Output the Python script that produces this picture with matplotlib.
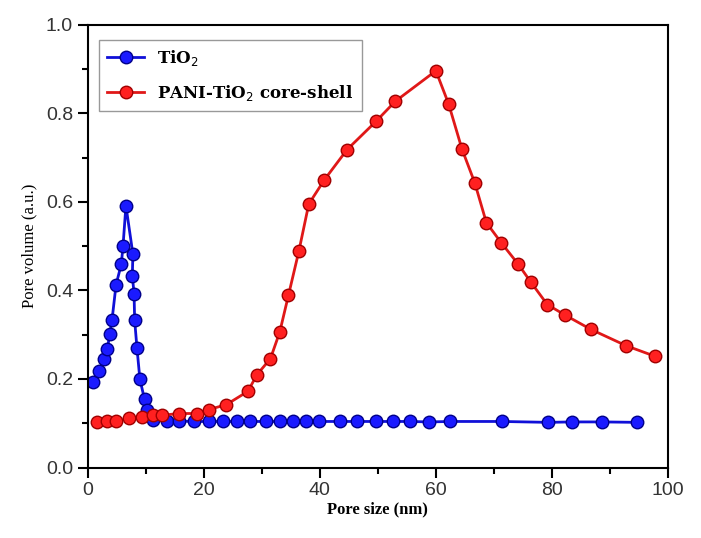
import matplotlib.pyplot as plt
from matplotlib.ticker import MultipleLocator

# TiO2 pore size distribution
tio2_size = [0.9, 1.9, 2.8, 3.4, 3.8, 4.2, 4.9, 5.8, 6.1, 6.6, 7.8, 7.7, 8.0, 8.1, 8.5,
             9.0, 9.8, 10.3, 11.3, 13.7, 15.7, 18.3, 20.9, 23.3, 25.7, 28.0, 30.8,
             33.2, 35.3, 37.6, 39.9, 43.4, 46.4, 49.6, 52.6, 55.5, 58.9, 62.5, 71.4,
             79.4, 83.4, 88.6, 94.7]
tio2_vol = [0.193, 0.218, 0.244, 0.267, 0.301, 0.333, 0.413, 0.459, 0.501, 0.591, 0.482,
            0.433, 0.393, 0.333, 0.270, 0.200, 0.154, 0.129, 0.108, 0.105, 0.105, 0.104,
            0.104, 0.104, 0.104, 0.104, 0.104, 0.104, 0.104, 0.104, 0.104, 0.104, 0.104,
            0.104, 0.104, 0.104, 0.103, 0.104, 0.104, 0.102, 0.103, 0.103, 0.102]

# PANI-TiO2 core-shell
pani_size = [1.6, 3.4, 4.9, 7.1, 9.3, 11.3, 12.8, 15.7, 18.8, 20.9, 23.9, 27.6, 29.2,
             31.5, 33.1, 34.6, 36.4, 38.1, 40.8, 44.7, 49.7, 53.0, 60.0, 62.2, 64.5,
             66.7, 68.7, 71.3, 74.2, 76.4, 79.2, 82.3, 86.7, 92.8, 97.8]
pani_vol = [0.102, 0.104, 0.104, 0.111, 0.113, 0.118, 0.118, 0.122, 0.122, 0.131, 0.142,
            0.172, 0.210, 0.246, 0.306, 0.389, 0.489, 0.595, 0.650, 0.718, 0.782, 0.827,
            0.896, 0.821, 0.719, 0.643, 0.553, 0.507, 0.459, 0.418, 0.368, 0.344, 0.312,
            0.275, 0.251]

fig = plt.figure(figsize=(7.01, 5.38), dpi=100)
ax = fig.add_axes([0.125, 0.131, 0.828, 0.823])

ax.plot(tio2_size, tio2_vol, color='#1010d8', lw=2, marker='o', ms=9,
        mfc='#1a1aff', mec='#00008a', mew=1, label='TiO$_2$')
ax.plot(pani_size, pani_vol, color='#e01818', lw=2, marker='o', ms=9,
        mfc='#ff2020', mec='#a00000', mew=1, label='PANI-TiO$_2$ core-shell')

ax.set_xlim(0, 100)
ax.set_ylim(0, 1.0)
ax.xaxis.set_major_locator(MultipleLocator(20))
ax.xaxis.set_minor_locator(MultipleLocator(10))
ax.yaxis.set_major_locator(MultipleLocator(0.2))
ax.yaxis.set_minor_locator(MultipleLocator(0.1))
ax.tick_params(which='both', direction='out', width=1.5)
ax.tick_params(which='major', length=7, labelsize=14)
ax.tick_params(which='minor', length=4)
for lab in ax.get_xticklabels() + ax.get_yticklabels():
    lab.set_family('Liberation Sans')
    lab.set_color('#333333')
for s in ax.spines.values():
    s.set_linewidth(1.5)

ax.set_xlabel('Pore size (nm)', family='Liberation Serif', fontweight='bold', fontsize=12, labelpad=2)
ax.set_ylabel('Pore volume (a.u.)', family='Liberation Serif', fontsize=12, labelpad=6)

leg = ax.legend(loc='upper left', bbox_to_anchor=(0.005, 0.985), fancybox=False,
                prop={'family': 'DejaVu Serif', 'weight': 'bold', 'size': 12},
                edgecolor='#999999', framealpha=1, handlelength=2.2, borderpad=0.5,
                labelspacing=0.9)

fig.savefig('out.png', dpi=100)
